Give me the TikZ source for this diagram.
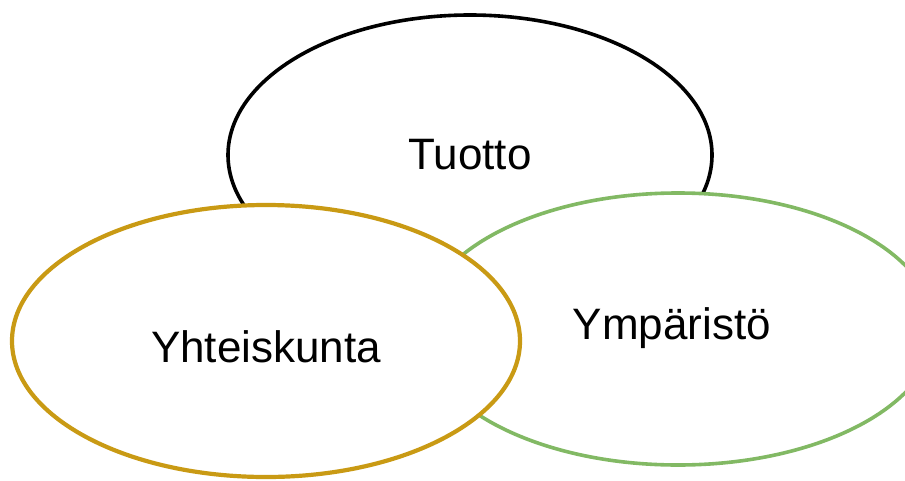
\documentclass[tikz,border=0pt]{standalone}
\usepackage{fontspec}
\setmainfont{Liberation Sans}
\usetikzlibrary{shapes.geometric}
\definecolor{goldc}{RGB}{201,154,20}
\definecolor{greenc}{RGB}{130,185,100}
\tikzset{
  ell/.style={ellipse, draw, fill=white, inner sep=0pt},
  lbl/.style={font=\fontsize{44}{50}\selectfont},
}
\begin{document}
\begin{tikzpicture}[x=1pt,y=-1pt]
\useasboundingbox (0,0) rectangle (905,480);
\node[ell, line width=3.6pt, draw=black, minimum width=484pt, minimum height=280pt] (tuotto) at (470,155) {};
\node[lbl] (tuottol) at (470,155) {Tuotto};
\node[ell, line width=3.6pt, draw=greenc, minimum width=514pt, minimum height=272pt] (ymp) at (678,329) {};
\node[lbl] (ympl) at (672,328) {Ympäristö};
\node[ell, line width=4.2pt, draw=goldc, minimum width=508pt, minimum height=272pt] (yht) at (266,341) {};
\node[lbl] (yhtl) at (266,347) {Yhteiskunta};
\end{tikzpicture}
\end{document}
